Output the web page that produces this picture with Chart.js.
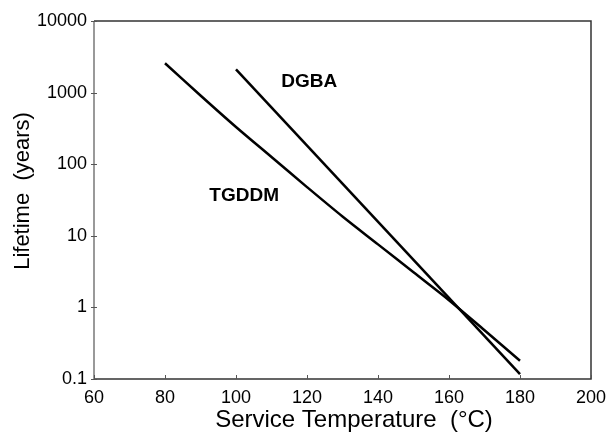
<!DOCTYPE html>
<html><head><meta charset="utf-8">
<script src="https://cdn.jsdelivr.net/npm/chart.js@4"></script>
<style>html,body{margin:0;padding:0;background:#fff}#wrap{width:607px;height:433px}</style>
</head><body><div id="wrap"><canvas id="c" width="607" height="433"></canvas></div>
<script>
const tgddmTemps = [80, 90, 100, 110, 120, 130, 140, 150, 160, 170, 180];
const tgddmLife = [2570, 912, 331, 126, 47.9, 18.6, 7.59, 3.09, 1.26, 0.479, 0.18];
const dgbaTemps = [100, 180];
const dgbaLife = [2110, 0.117];
const xTicks = [60, 80, 100, 120, 140, 160, 180, 200];
const yTicks = [0.1, 1, 10, 100, 1000, 10000];
const seriesNames = ['TGDDM', 'DGBA'];
const seriesLabelAt = [{x: 102.3, y: 36}, {x: 120.6, y: 1400}];
const xTitle = 'Service Temperature  (°C)';
const yTitle = 'Lifetime  (years)';

const FONT = '"Liberation Sans", Arial, sans-serif';

const toPts = (xs, ys) => xs.map((x, i) => ({x: x, y: ys[i]}));

const framePlugin = {
  id: 'frame',
  afterDraw(chart) {
    const {ctx, chartArea: a, scales} = chart;
    ctx.save();
    // frame
    ctx.lineWidth = 1.5;
    ctx.strokeStyle = '#333';
    ctx.beginPath();
    ctx.moveTo(a.left, a.top); ctx.lineTo(a.right, a.top);
    ctx.lineTo(a.right, a.bottom); ctx.lineTo(a.left, a.bottom);
    ctx.stroke();
    ctx.strokeStyle = '#777';
    ctx.beginPath();
    ctx.moveTo(a.left, a.top); ctx.lineTo(a.left, a.bottom);
    ctx.stroke();
    // ticks
    ctx.lineWidth = 1;
    ctx.strokeStyle = '#555';
    xTicks.forEach(v => {
      const px = Math.round(scales.x.getPixelForValue(v)) + 0.5;
      ctx.beginPath(); ctx.moveTo(px, a.bottom); ctx.lineTo(px, a.bottom - 4); ctx.stroke();
    });
    yTicks.forEach(v => {
      const py = Math.round(scales.y.getPixelForValue(v)) + 0.5;
      ctx.beginPath(); ctx.moveTo(a.left - 3, py); ctx.lineTo(a.left + 3, py); ctx.stroke();
    });
    // series labels
    ctx.fillStyle = '#000';
    ctx.font = 'bold 19px ' + FONT;
    ctx.textAlign = 'center';
    ctx.textBaseline = 'middle';
    seriesNames.forEach((n, i) => {
      const p = seriesLabelAt[i];
      ctx.fillText(n, scales.x.getPixelForValue(p.x), scales.y.getPixelForValue(p.y));
    });
    // axis titles
    ctx.textBaseline = 'alphabetic';
    ctx.font = '24px ' + FONT;
    ctx.fillText(xTitle, 354, 427);
    ctx.font = '22px ' + FONT;
    ctx.translate(29, 191);
    ctx.rotate(-Math.PI / 2);
    ctx.fillText(yTitle, 0, 0);
    ctx.restore();
  }
};

new Chart(document.getElementById('c'), {
  type: 'scatter',
  data: {
    datasets: [
      {label: seriesNames[0], data: toPts(tgddmTemps, tgddmLife), showLine: true, borderColor: '#000', borderWidth: 2.5, pointRadius: 0, tension: 0.3, fill: false},
      {label: seriesNames[1], data: toPts(dgbaTemps, dgbaLife), showLine: true, borderColor: '#000', borderWidth: 2.5, pointRadius: 0, fill: false}
    ]
  },
  options: {
    responsive: false,
    animation: false,
    layout: {padding: {left: 0, top: 21, right: 16, bottom: 0}},
    plugins: {legend: {display: false}, tooltip: {enabled: false}},
    scales: {
      x: {
        type: 'linear', min: 60, max: 200,
        afterBuildTicks: s => { s.ticks = xTicks.map(v => ({value: v})); },
        afterFit: s => { s.height = 54; s.paddingLeft = 0; s.paddingRight = 0; },
        grid: {display: false, drawTicks: false},
        border: {display: false},
        ticks: {color: '#000', font: {family: FONT, size: 18}, padding: 8, maxRotation: 0, autoSkip: false},
        title: {display: false}
      },
      y: {
        type: 'logarithmic', min: 0.1, max: 10000,
        afterBuildTicks: s => { s.ticks = yTicks.map(v => ({value: v})); },
        afterFit: s => { s.width = 94; s.paddingTop = 0; s.paddingBottom = 0; },
        grid: {display: false, drawTicks: false},
        border: {display: false},
        ticks: {color: '#000', font: {family: FONT, size: 18}, padding: 7, autoSkip: false,
          callback: v => String(v)},
        title: {display: false}
      }
    }
  },
  plugins: [framePlugin]
});
</script></body></html>
